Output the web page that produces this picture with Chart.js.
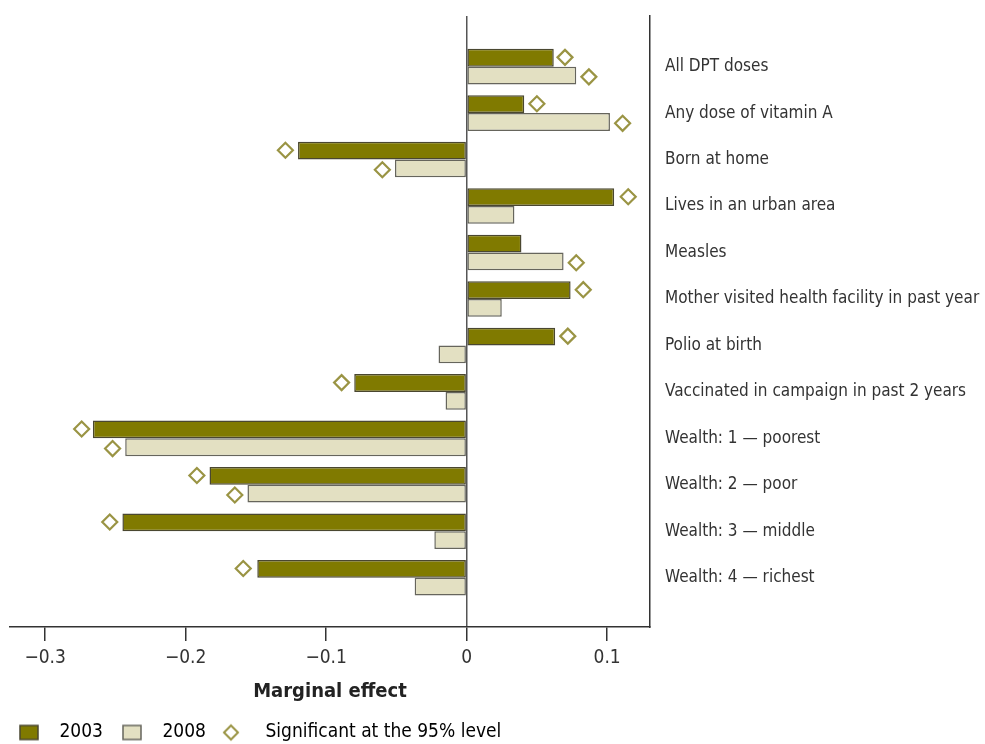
<!DOCTYPE html>
<html>
<head>
<meta charset="utf-8">
<script src="https://cdn.jsdelivr.net/npm/chart.js@4.4.0/dist/chart.umd.min.js"></script>
<style>
  html, body { margin: 0; padding: 0; background: #fff; overflow: hidden; }
  #wrap { width: 985px; height: 752px; }
</style>
</head>
<body>
<div id="wrap"><canvas id="chart"></canvas></div>
<script>
// data
const categories = [
    'All DPT doses',
    'Any dose of vitamin A',
    'Born at home',
    'Lives in an urban area',
    'Measles',
    'Mother visited health facility in past year',
    'Polio at birth',
    'Vaccinated in campaign in past 2 years',
    'Wealth: 1 \u2014 poorest',
    'Wealth: 2 \u2014 poor',
    'Wealth: 3 \u2014 middle',
    'Wealth: 4 \u2014 richest'
];
const values2003 = [0.062, 0.041, -0.120, 0.105, 0.039, 0.074, 0.063, -0.080, -0.266, -0.183, -0.245, -0.149];
const values2008 = [0.078, 0.102, -0.051, 0.034, 0.069, 0.025, -0.020, -0.015, -0.243, -0.156, -0.023, -0.037];
// diamond markers (significant at 95%), null = not significant
const sig2003 = [0.070, 0.050, -0.129, 0.115, null, 0.083, 0.072, -0.089, -0.274, -0.192, -0.254, -0.159];
const sig2008 = [0.087, 0.111, -0.060, null, 0.078, null, null, null, -0.252, -0.165, null, null];
const xTickValues = [-0.3, -0.2, -0.1, 0, 0.1];
const xTickLabels = ['\u22120.3', '\u22120.2', '\u22120.1', '0', '0.1'];

const FONT = '"Liberation Sans Narrow", "DejaVu Sans Condensed", sans-serif';
const C2003 = '#807a00', C2008 = '#e3e0c2', CSIG = '#9a9444';

// small legend icons, drawn a bit left of the legend box slot
function legendIcon(kind, fill, stroke) {
    const c = document.createElement('canvas');
    c.width = 50; c.height = 20;
    const g = c.getContext('2d');
    if (kind === 'diamond') {
        g.strokeStyle = stroke; g.lineWidth = 2;
        g.beginPath();
        g.moveTo(10, 3); g.lineTo(17, 10); g.lineTo(10, 17); g.lineTo(3, 10);
        g.closePath(); g.stroke();
    } else {
        g.fillStyle = fill; g.fillRect(5, 3, 18, 14);
        g.strokeStyle = stroke; g.lineWidth = 1.5; g.strokeRect(5, 3, 18, 14);
    }
    return c;
}

const sigPoints = [];
categories.forEach((c, i) => {
    if (sig2003[i] !== null) sigPoints.push({ x: sig2003[i], y: i - 0.2 });
    if (sig2008[i] !== null) sigPoints.push({ x: sig2008[i], y: i + 0.22 });
});

new Chart(document.getElementById('chart'), {
    type: 'bar',
    data: {
        datasets: [
            { label: '2003', yAxisID: 'y', data: values2003.map((v, i) => ({ x: v, y: i })), backgroundColor: C2003, borderColor: '#4a4730', borderWidth: 1.5, borderSkipped: false, categoryPercentage: 0.765, barPercentage: 1 },
            { label: '2008', yAxisID: 'y', data: values2008.map((v, i) => ({ x: v, y: i })), backgroundColor: C2008, borderColor: '#66655c', borderWidth: 1.5, borderSkipped: false, categoryPercentage: 0.765, barPercentage: 1 },
            { type: 'scatter', yAxisID: 'y', label: 'Significant at the 95% level', data: sigPoints, pointStyle: 'rectRot', pointRadius: 7.5, pointHoverRadius: 7.5, borderColor: CSIG, backgroundColor: 'rgba(255,255,255,0)', borderWidth: 2.2 }
        ]
    },
    options: {
        indexAxis: 'y',
        responsive: true,
        maintainAspectRatio: false,
        animation: false,
        layout: { padding: { left: 0, top: 16, right: 0, bottom: 0 } },
        scales: {
            x: {
                type: 'linear', min: -0.325, max: 0.1305,
                afterBuildTicks: s => { s.ticks = xTickValues.map(v => ({ value: v })); },
                afterFit: s => { s.height = 66; },
                grid: { color: c => (c.tick && c.tick.value === 0 ? '#555' : 'rgba(0,0,0,0)'), lineWidth: 1.5, tickColor: '#333', tickLength: 14 },
                border: { display: true, color: '#333', width: 1.5 },
                ticks: { callback: (v, i) => xTickLabels[i], font: { family: FONT, size: 19 }, color: '#333', padding: 6, maxRotation: 0, autoSkip: false },
                title: { display: true, text: 'Marginal effect', font: { family: FONT, size: 20, weight: 'bold', lineHeight: 1 }, color: '#222', padding: { top: 0, bottom: -9 } }
            },
            y: {
                type: 'linear', position: 'right', reverse: true, offset: false, min: -1.09, max: 12.06,
                afterBuildTicks: s => { s.ticks = categories.map((c, i) => ({ value: i })); },
                afterFit: s => { s.width = 335; s.paddingTop = 0; s.paddingBottom = 0; },
                grid: { display: false, drawTicks: false },
                border: { display: true, color: '#333', width: 1.5 },
                ticks: { callback: v => categories[v], font: { family: FONT, size: 17 }, color: '#333', padding: 15, autoSkip: false }
            },
            // empty strip that keeps the plot 10px off the left edge
            yLeft: {
                type: 'linear', axis: 'y', position: 'left',
                afterFit: s => { s.width = 10; s.paddingTop = 0; s.paddingBottom = 0; },
                ticks: { display: false }, grid: { display: false, drawTicks: false }, border: { display: false }
            }
        },
        plugins: {
            tooltip: { enabled: false },
            legend: {
                position: 'bottom', align: 'start',
                labels: {
                    usePointStyle: true, pointStyleWidth: 20, boxHeight: 20, padding: 30,
                    font: { family: FONT, size: 19 }, color: '#333',
                    generateLabels: () => [
                        { text: '2003', pointStyle: legendIcon('rect', C2003, '#4a4730'), datasetIndex: 0, hidden: false, lineWidth: 0 },
                        { text: '2008', pointStyle: legendIcon('rect', C2008, '#66655c'), datasetIndex: 1, hidden: false, lineWidth: 0 },
                        { text: 'Significant at the 95% level', pointStyle: legendIcon('diamond', null, CSIG), datasetIndex: 2, hidden: false, lineWidth: 0 }
                    ]
                }
            }
        }
    }
});
</script>
</body>
</html>
